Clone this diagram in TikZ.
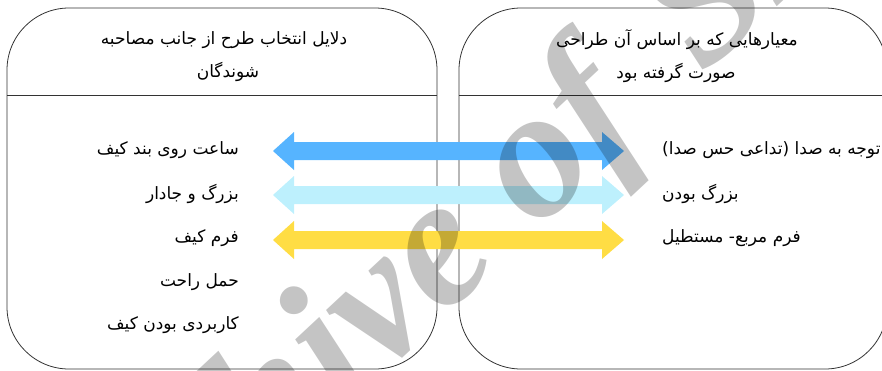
\documentclass[tikz,border=0pt]{standalone}
\usepackage{fontspec}
\usetikzlibrary{calc}
\newfontfamily\arabicfont[Script=Arabic]{DejaVu Sans}
\newfontfamily\wmfont{Liberation Serif}
\TeXXeTstate=1
\definecolor{arrowblue}{HTML}{56B4FF}
\definecolor{arrowlight}{HTML}{BDF0FD}
\definecolor{arrowyellow}{HTML}{FFDD44}
\definecolor{boxline}{HTML}{333333}
\tikzset{
  panel/.style={draw=boxline, line width=0.8pt, rounded corners=62pt},
  sepline/.style={draw=boxline, line width=0.8pt},
  hdr/.style={font=\arabicfont\fontsize{17}{20}\selectfont, inner sep=0pt, anchor=center},
  itemL/.style={font=\arabicfont\fontsize{17}{20}\selectfont, inner sep=0pt, anchor=east},
  itemR/.style={font=\arabicfont\fontsize{17}{20}\selectfont, inner sep=0pt, anchor=west},
  watermark/.style={font=\wmfont\bfseries\itshape\fontsize{185}{185}\selectfont, text=black, text opacity=0.23, inner sep=0pt, rotate=43}
}
\newcommand\twowayarrow[3]{%
  \fill[#3] (#1) -- ++(21,-19) -- ++(0,10) -- ($(#2)+(-22,-9)$) -- ++(0,-10) -- (#2)
    -- ++(-22,19) -- ++(0,-10) -- ($(#1)+(21,9)$) -- ++(0,10) -- cycle;}
\begin{document}
\begin{tikzpicture}[x=1pt,y=-1pt]
\useasboundingbox (0,0) rectangle (882,370);
\clip (0,0) rectangle (882,370);
% panels
\draw[panel] (7,8) rectangle (437,369);
\draw[panel] (459,8) rectangle (887,369);
\draw[sepline] (7,95) -- (437,95);
\draw[sepline] (459,95) -- (887,95);
% headers
\node[hdr] (hl1) at (224,40) {\beginR دلایل انتخاب طرح از جانب مصاحبه\endR};
\node[hdr] (hl2) at (228,72) {\beginR شوندگان\endR};
\node[hdr] (hr1) at (677,40) {\beginR معیارهایی که بر اساس آن طراحی\endR};
\node[hdr] (hr2) at (676,73) {\beginR صورت گرفته بود\endR};
% left items
\node[itemL] (l1) at (239,150) {\beginR ساعت روی بند کیف\endR};
\node[itemL] (l2) at (239,194) {\beginR بزرگ و جادار\endR};
\node[itemL] (l3) at (239,238) {\beginR فرم کیف\endR};
\node[itemL] (l4) at (239,282) {\beginR حمل راحت\endR};
\node[itemL] (l5) at (239,325) {\beginR کاربردی بودن کیف\endR};
% right items
\node[itemR] (r1) at (662,150) {\beginR توجه به صدا (تداعی حس صدا)\endR};
\node[itemR] (r2) at (662,194) {\beginR بزرگ بودن\endR};
\node[itemR] (r3) at (662,238) {\beginR فرم مربع- مستطیل\endR};
% arrows
\coordinate (a1l) at (273,151);
\coordinate (a1r) at (624,151);
\coordinate (a2l) at (273,195);
\coordinate (a2r) at (624,195);
\coordinate (a3l) at (273,240);
\coordinate (a3r) at (624,240);
\twowayarrow{a1l}{a1r}{arrowblue}
\twowayarrow{a2l}{a2r}{arrowlight}
\twowayarrow{a3l}{a3r}{arrowyellow}
% watermark
\node[watermark] (wm) at (467,234) {Archive of\hspace{0.15em} SID};
\end{tikzpicture}
\end{document}
